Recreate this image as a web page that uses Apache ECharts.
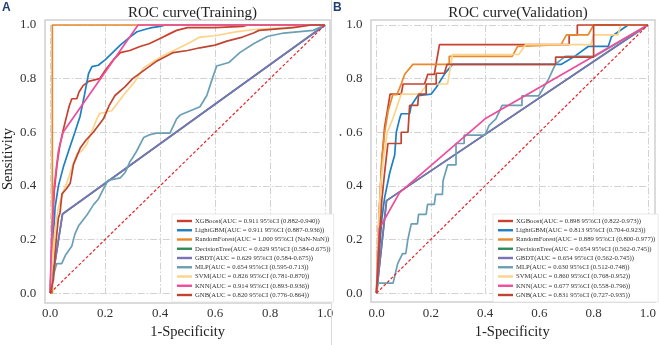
<!DOCTYPE html>
<html>
<head>
<meta charset="utf-8">
<script src="https://cdn.jsdelivr.net/npm/echarts@6/dist/echarts.min.js"></script>
<style>
  html, body { margin: 0; padding: 0; background: #fff; }
  #chart { width: 659px; height: 345px; }
</style>
</head>
<body>
<div id="chart"></div>
<script>
// tick values shared by both panels
const ticks = [0, 0.2, 0.4, 0.6, 0.8, 1.0];

const models = ['XGBoost', 'LightGBM', 'RandomForest', 'DecisionTree', 'GBDT', 'MLP', 'SVM', 'KNN', 'GNB'];
const colors = ['#c9402f', '#1f7fc4', '#e8892b', '#2e8b57', '#7b72b8', '#6a9fb5', '#fdd38a', '#ef4c9a', '#bf4530'];

// legend text (AUC + CI)
const trainAuc = [
  '0.911 95%CI (0.882-0.940)', '0.911 95%CI (0.887-0.936)', '1.000 95%CI (NaN-NaN)',
  '0.629 95%CI (0.584-0.675)', '0.629 95%CI (0.584-0.675)', '0.654 95%CI (0.595-0.713)',
  '0.826 95%CI (0.781-0.870)', '0.914 95%CI (0.893-0.936)', '0.820 95%CI (0.776-0.864)'
];
const validAuc = [
  '0.898 95%CI (0.822-0.973)', '0.813 95%CI (0.704-0.923)', '0.889 95%CI (0.800-0.977)',
  '0.654 95%CI (0.562-0.745)', '0.654 95%CI (0.562-0.745)', '0.630 95%CI (0.512-0.748)',
  '0.860 95%CI (0.768-0.952)', '0.677 95%CI (0.558-0.796)', '0.831 95%CI (0.727-0.935)'
];

// ---- training set ROC points [fpr, tpr] ----
const trainXGBoost = [[0,0],[0.005,0.15],[0.01,0.3],[0.015,0.38],[0.025,0.48],[0.035,0.55],[0.048,0.61],[0.06,0.66],[0.07,0.70],[0.079,0.725],[0.097,0.725],[0.105,0.75],[0.12,0.774],[0.14,0.79],[0.18,0.80],[0.2,0.83],[0.23,0.87],[0.255,0.897],[0.29,0.905],[0.327,0.92],[0.36,0.93],[0.4,0.95],[0.43,0.965],[0.46,0.98],[0.5,0.99],[0.6,0.99],[0.7,0.995],[0.72,1],[1,1]];
const trainLightGBM = [[0,0],[0.008,0.15],[0.018,0.32],[0.03,0.4],[0.048,0.47],[0.067,0.53],[0.09,0.6],[0.109,0.66],[0.125,0.74],[0.14,0.82],[0.152,0.845],[0.175,0.85],[0.2,0.87],[0.23,0.9],[0.255,0.925],[0.29,0.955],[0.316,0.975],[0.35,0.985],[0.37,0.99],[0.4,0.995],[0.42,1],[1,1]];
const trainRandomForest = [[0,0],[0.008,0],[0.008,1],[1,1]];
const trainDecisionTree = [[0,0],[0.045,0.295],[1,1]];
const trainGBDT = [[0,0],[0.045,0.295],[1,1]];
const trainMLP = [[0,0],[0.01,0.06],[0.024,0.11],[0.042,0.11],[0.055,0.14],[0.079,0.176],[0.09,0.22],[0.103,0.25],[0.133,0.29],[0.158,0.33],[0.175,0.35],[0.188,0.377],[0.21,0.42],[0.255,0.43],[0.273,0.45],[0.29,0.49],[0.30,0.505],[0.315,0.53],[0.34,0.58],[0.36,0.59],[0.39,0.597],[0.436,0.597],[0.46,0.65],[0.473,0.664],[0.545,0.695],[0.57,0.737],[0.59,0.8],[0.606,0.847],[0.65,0.86],[0.69,0.897],[0.74,0.93],[0.79,0.957],[0.85,0.97],[0.957,0.98],[1,1]];
const trainSVM = [[0,0],[0.008,0.12],[0.018,0.24],[0.03,0.32],[0.045,0.37],[0.06,0.41],[0.08,0.47],[0.097,0.52],[0.115,0.53],[0.133,0.555],[0.15,0.6],[0.17,0.65],[0.18,0.67],[0.224,0.68],[0.266,0.737],[0.309,0.79],[0.34,0.84],[0.37,0.86],[0.418,0.89],[0.45,0.905],[0.5,0.93],[0.545,0.955],[0.6,0.96],[0.68,0.975],[0.76,0.985],[0.86,0.99],[0.95,1],[1,1]];
const trainKNN = [[0,0],[0.005,0.2],[0.015,0.4],[0.03,0.53],[0.047,0.6],[0.32,1],[1,1]];
const trainGNB = [[0,0],[0.012,0.05],[0.018,0.15],[0.024,0.22],[0.03,0.28],[0.036,0.30],[0.043,0.37],[0.06,0.39],[0.073,0.41],[0.085,0.48],[0.109,0.54],[0.13,0.57],[0.157,0.60],[0.194,0.65],[0.215,0.70],[0.236,0.737],[0.273,0.77],[0.3,0.8],[0.34,0.83],[0.389,0.866],[0.448,0.897],[0.5,0.905],[0.545,0.915],[0.6,0.925],[0.643,0.94],[0.7,0.955],[0.74,0.97],[0.76,0.98],[0.885,0.99],[0.95,1],[1,1]];

// ---- validation set ROC points ----
const validXGBoost = [[0,0],[0.01,0.3],[0.02,0.5],[0.03,0.62],[0.04,0.68],[0.05,0.742],[0.091,0.742],[0.098,0.78],[0.177,0.78],[0.189,0.816],[0.213,0.816],[0.232,0.927],[0.71,0.927],[0.71,0.963],[0.74,0.963],[0.74,1],[1,1]];
const validLightGBM = [[0,0],[0.01,0.15],[0.02,0.28],[0.03,0.356],[0.049,0.45],[0.067,0.515],[0.073,0.6],[0.085,0.65],[0.091,0.669],[0.122,0.669],[0.128,0.70],[0.152,0.736],[0.201,0.742],[0.22,0.767],[0.25,0.816],[0.28,0.853],[0.68,0.853],[0.73,0.883],[0.78,0.92],[0.854,0.92],[0.866,0.957],[0.927,1],[1,1]];
const validRandomForest = [[0,0],[0.005,0.2],[0.015,0.4],[0.02,0.5],[0.03,0.6],[0.043,0.68],[0.06,0.74],[0.075,0.74],[0.091,0.78],[0.104,0.816],[0.134,0.853],[0.268,0.853],[0.268,0.883],[0.311,0.883],[0.5,0.883],[0.52,0.92],[0.68,0.927],[0.7,0.963],[0.78,0.963],[0.8,1],[1,1]];
const validDecisionTree = [[0,0],[0.037,0.345],[1,1]];
const validGBDT = [[0,0],[0.037,0.345],[1,1]];
const validMLP = [[0,0],[0.006,0.037],[0.061,0.037],[0.078,0.11],[0.096,0.147],[0.108,0.147],[0.115,0.197],[0.128,0.258],[0.151,0.258],[0.155,0.294],[0.183,0.294],[0.188,0.331],[0.213,0.331],[0.218,0.368],[0.243,0.368],[0.245,0.418],[0.262,0.478],[0.293,0.478],[0.293,0.558],[0.323,0.558],[0.323,0.589],[0.40,0.589],[0.415,0.626],[0.44,0.65],[0.463,0.70],[0.536,0.70],[0.536,0.736],[0.598,0.736],[0.634,0.798],[0.659,0.853],[0.695,0.883],[0.805,0.883],[0.866,0.92],[0.927,0.957],[1,1]];
const validSVM = [[0,0],[0.005,0.2],[0.015,0.4],[0.025,0.5],[0.04,0.6],[0.06,0.65],[0.079,0.706],[0.091,0.742],[0.158,0.742],[0.189,0.78],[0.262,0.78],[0.28,0.89],[0.524,0.89],[0.55,0.927],[0.79,0.927],[0.8,0.963],[0.89,0.963],[0.9,1],[1,1]];
const validKNN = [[0,0],[0.01,0.24],[0.085,0.375],[0.4,0.65],[1,1]];
const validGNB = [[0,0],[0.008,0.15],[0.02,0.35],[0.03,0.45],[0.042,0.558],[0.091,0.558],[0.091,0.60],[0.116,0.60],[0.122,0.70],[0.152,0.70],[0.155,0.742],[0.183,0.742],[0.183,0.78],[0.22,0.78],[0.22,0.82],[0.25,0.82],[0.26,0.853],[0.66,0.853],[0.66,0.88],[0.8,0.88],[0.8,1],[1,1]];

const diagonal = [[0,0],[1,1]];

const trainCurves = [trainXGBoost, trainLightGBM, trainRandomForest, trainDecisionTree, trainGBDT, trainMLP, trainSVM, trainKNN, trainGNB];
const validCurves = [validXGBoost, validLightGBM, validRandomForest, validDecisionTree, validGBDT, validMLP, validSVM, validKNN, validGNB];

const serif = 'Liberation Serif';
const gridColor = '#d2d2d2';
const frameColor = '#cfcfcf';

const chart = echarts.init(document.getElementById('chart'));

function makeAxis(idx, isX, nameText) {
  const ax = {
    gridIndex: idx,
    type: 'value',
    min: 0,
    max: 1,
    interval: 0.2,
    axisLine: { show: false },
    axisTick: { show: false },
    splitLine: { show: true, lineStyle: { color: gridColor, width: 1, type: [7, 2, 1.5, 2] } },
    axisLabel: {
      fontFamily: serif, fontSize: 13, color: '#333', margin: 14,
      formatter: v => (ticks.indexOf(+v.toFixed(1)) >= 0 ? v.toFixed(1) : '')
    }
  };
  if (nameText) {
    ax.name = nameText;
    ax.nameLocation = 'middle';
    ax.nameGap = isX ? 31 : 34;
    ax.nameTextStyle = { fontFamily: serif, fontSize: 14.5, color: '#222' };
  }
  return ax;
}

const series = [];
const legendTrain = [];
const legendValid = [];
function addPanel(idx, curves, aucs, legendList) {
  curves.forEach((pts, i) => {
    const name = models[i] + '(AUC = ' + aucs[i] + ')';
    legendList.push(name);
    series.push({
      name: name,
      type: 'line',
      xAxisIndex: idx,
      yAxisIndex: idx,
      data: pts,
      symbol: 'none',
      clip: false,
      lineStyle: { color: colors[i], width: 1.7 },
      itemStyle: { color: colors[i] },
      z: 3
    });
  });
  // chance line
  series.push({
    type: 'line',
    xAxisIndex: idx,
    yAxisIndex: idx,
    data: diagonal,
    symbol: 'none',
    clip: false,
    lineStyle: { color: '#e4262b', width: 1.2, type: [3, 2] },
    z: 3
  });
}
addPanel(0, trainCurves, trainAuc, legendTrain);
addPanel(1, validCurves, validAuc, legendValid);

function legendFor(list, left) {
  return {
    data: list,
    orient: 'vertical',
    left: left,
    top: 214,
    icon: 'rect',
    itemWidth: 15,
    itemHeight: 2.4,
    itemGap: 1.25,
    padding: [3, 3, 3, 5],
    backgroundColor: '#fff',
    borderColor: '#e2e2e2',
    borderWidth: 0.8,
    selectedMode: false,
    textStyle: { fontFamily: serif, fontSize: 6.7, color: '#333', lineHeight: 8, padding: [0, 0, 0, -2] },
    z: 10
  };
}

chart.setOption({
  animation: false,
  backgroundColor: '#fff',
  title: [
    { text: 'ROC curve(Training)', left: 187.5, top: 1, textAlign: 'center',
      textStyle: { fontFamily: serif, fontSize: 15, fontWeight: 'normal', color: '#222' } },
    { text: 'ROC curve(Validation)', left: 513, top: 1, textAlign: 'center',
      textStyle: { fontFamily: serif, fontSize: 15, fontWeight: 'normal', color: '#222' } }
  ],
  grid: [
    { left: 50, top: 25, width: 275, height: 274 },
    { left: 376.5, top: 25, width: 273.5, height: 272.5 }
  ],
  xAxis: [makeAxis(0, true, '1-Specificity'), makeAxis(1, true, '1-Specificity')],
  yAxis: [makeAxis(0, false, 'Sensitivity'), makeAxis(1, false, '')],
  legend: [legendFor(legendTrain, 172), legendFor(legendValid, 493)],
  series: series,
  graphic: [
    { type: 'rect', shape: { x: 45, y: 20, width: 285, height: 283 }, style: { fill: 'none', stroke: frameColor, lineWidth: 1.5 }, z: 1 },
    { type: 'rect', shape: { x: 371, y: 20, width: 284, height: 282 }, style: { fill: 'none', stroke: frameColor, lineWidth: 1.5 }, z: 1 },
    { type: 'line', shape: { x1: 331.5, y1: 0, x2: 331.5, y2: 345 }, style: { stroke: '#d9d9d9', lineWidth: 1 }, z: 1 },
    { type: 'text', left: 2, top: 2, style: { text: 'A', font: 'bold 12px "Liberation Sans"', fill: '#1f3f73' } },
    { type: 'text', left: 333, top: 2, style: { text: 'B', font: 'bold 12px "Liberation Sans"', fill: '#1f3f73' } },
    { type: 'circle', shape: { cx: 340.5, cy: 135, r: 0.9 }, style: { fill: '#555' } }
  ]
});
</script>
</body>
</html>
